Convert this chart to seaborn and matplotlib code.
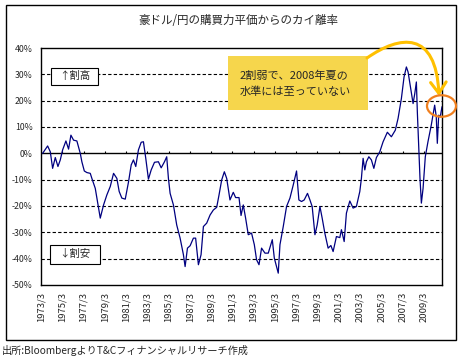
import matplotlib
matplotlib.use("Agg")
import matplotlib.pyplot as plt
import seaborn as sns
from matplotlib.patches import Rectangle, Ellipse, FancyArrowPatch
from matplotlib.path import Path

# ---------------- data ----------------
title = "豪ドル/円の購買力平価からのカイ離率"
source = "出所:BloombergよりT&Cフィナンシャルリサーチ作成"
note_lines = ["2割弱で、2008年夏の", "水準には至っていない"]
label_high = "↑割高"
label_low = "↓割安"

years = [1973.32, 1973.79, 1974.04, 1974.26, 1974.51, 1974.76, 1974.98, 1975.20, 1975.51, 1975.76,
         1975.98, 1976.23, 1976.54, 1976.86, 1977.01, 1977.24, 1977.48, 1977.80, 1977.95, 1978.27,
         1978.48, 1978.74, 1979.05, 1979.36, 1979.68, 1979.99, 1980.30, 1980.52, 1980.77, 1981.09,
         1981.40, 1981.65, 1981.86, 1982.08, 1982.33, 1982.59, 1982.80, 1983.02, 1983.27, 1983.53,
         1983.84, 1984.21, 1984.47, 1984.78, 1984.99, 1985.15, 1985.31, 1985.62, 1985.93, 1986.25,
         1986.56, 1986.72, 1986.94, 1987.19, 1987.50, 1987.71, 1987.97, 1988.22, 1988.44, 1988.75,
         1989.07, 1989.38, 1989.69, 1989.91, 1990.16, 1990.41, 1990.63, 1990.94, 1991.25, 1991.47,
         1991.79, 1991.98, 1992.19, 1992.41, 1992.66, 1992.97, 1993.23, 1993.44, 1993.67, 1993.91,
         1994.23, 1994.54, 1994.92, 1995.11, 1995.48, 1995.64, 1995.95, 1996.26, 1996.58, 1996.89,
         1997.20, 1997.42, 1997.67, 1997.92, 1998.23, 1998.46, 1998.67, 1998.93, 1999.14, 1999.40,
         1999.61, 1999.86, 2000.17, 2000.43, 2000.64, 2000.95, 2001.27, 2001.42, 2001.68, 2001.89,
         2002.21, 2002.52, 2002.83, 2003.15, 2003.30, 2003.46, 2003.62, 2003.77, 2004.00, 2004.24,
         2004.47, 2004.71, 2005.03, 2005.34, 2005.74, 2006.12, 2006.49, 2006.75, 2007.06, 2007.31,
         2007.53, 2007.69, 2007.94, 2008.16, 2008.32, 2008.47, 2008.56, 2008.69, 2008.81, 2008.94,
         2009.10, 2009.31, 2009.56, 2009.87, 2010.19, 2010.34, 2010.44, 2010.57, 2010.72, 2010.88]

values = [0.0, 2.8, 0.6, -5.7, -1.6, -5.0, -2.5, 1.3, 4.7, 1.6,
          6.9, 5.0, 4.7, 0.0, -3.2, -6.7, -7.3, -7.6, -9.5, -13.3,
          -18.3, -24.6, -19.6, -15.8, -12.6, -7.6, -9.5, -14.5, -17.0, -17.4,
          -10.8, -4.4, -2.5, -5.0, 1.3, 4.2, 4.4, -1.9, -9.8, -6.3,
          -3.4, -3.2, -5.5, -3.2, -1.3, -9.5, -15.2, -19.6, -27.2, -32.2,
          -38.5, -43.0, -36.0, -35.1, -32.2, -32.2, -42.3, -38.5, -27.8, -26.5,
          -23.4, -21.5, -20.5, -15.8, -10.1, -7.0, -9.5, -17.7, -14.8, -16.8,
          -16.8, -23.6, -19.6, -24.6, -30.9, -30.3, -34.7, -40.4, -42.3, -36.0,
          -37.9, -37.9, -32.8, -39.8, -45.5, -34.7, -27.8, -20.2, -17.0, -12.0,
          -6.7, -17.7, -18.3, -17.7, -15.2, -17.7, -20.2, -30.9, -27.2, -20.2,
          -24.6, -30.3, -36.0, -35.0, -37.3, -31.6, -32.0, -29.0, -33.5, -22.7,
          -18.1, -20.8, -20.2, -14.5, -9.5, -1.9, -6.3, -3.2, -1.3, -2.5,
          -5.7, -1.6, 0.6, 4.4, 8.0, 6.3, 8.8, 13.3, 20.8, 29.0,
          32.8, 30.9, 24.6, 18.9, 22.7, 27.1, 15.8, 3.1, -9.5, -18.9,
          -13.3, -1.3, 4.4, 10.7, 18.3, 13.9, 3.8, 14.5, 13.9, 17.7]

xtick_years = list(range(1973, 2010, 2))
xtick_labels = [f"{y}/3" for y in xtick_years]
ytick_values = [40, 30, 20, 10, 0, -10, -20, -30, -40, -50]
ytick_labels = [f"{v}%" for v in ytick_values]
grid_values = [30, 20, 10, -10, -20, -30, -40]

# ---------------- style ----------------
sns.set_style("white")
plt.rcParams['font.family'] = ['Noto Sans CJK JP', 'DejaVu Sans']

W, H = 464, 358
fig = plt.figure(figsize=(W / 100, H / 100), dpi=100)
fig.patch.set_facecolor("white")


def fx(x):
    return x / W


def fy(y):
    return 1 - y / H


ax = fig.add_axes([fx(41), fy(285), (442 - 41) / W, (285 - 48) / H])
ax.set_facecolor("white")

sns.lineplot(x=years, y=values, ax=ax, color="#000080", lw=0.9, zorder=3)

xtick_pos = [y + 2 / 12 for y in xtick_years]
ax.set_xlim(xtick_pos[0], 2010.88)
ax.set_ylim(-50, 40)

for v in grid_values:
    ax.axhline(v, color="black", lw=0.8, ls=(0, (3, 2)), zorder=1)
ax.axhline(0, color="black", lw=1.0, zorder=2)
ax.vlines(xtick_pos, 0, 0.9, color="black", lw=0.8, zorder=2)

ax.set_yticks(ytick_values)
ax.set_yticklabels(ytick_labels, fontsize=6.3)
ax.set_xticks(xtick_pos)
ax.set_xticklabels(xtick_labels, rotation=90, fontsize=6.8, va="top")
ax.tick_params(axis="y", length=0, pad=6)
ax.tick_params(axis="x", length=0, pad=5)
ax.set_xlabel("")
ax.set_ylabel("")
for s in ax.spines.values():
    s.set_color("black")
    s.set_linewidth(1.0)

# ---------------- decorations ----------------
fig.add_artist(Rectangle((fx(6), fy(340)), (456 - 6) / W, (340 - 5) / H, fill=False,
                         edgecolor="black", lw=1.0, transform=fig.transFigure, zorder=0.5))

fig.text(fx(238), fy(20), title, ha="center", va="center", fontsize=8.3)
fig.text(fx(2), fy(351), source, ha="left", va="center", fontsize=7.3)

# label boxes
fig.add_artist(Rectangle((fx(51), fy(85)), (98 - 51) / W, (85 - 68) / H, facecolor="white",
                         edgecolor="black", lw=0.8, transform=fig.transFigure, zorder=4))
fig.text(fx(74.5), fy(76.5), label_high, ha="center", va="center", fontsize=7.5, zorder=5)
fig.add_artist(Rectangle((fx(50), fy(264)), (100 - 50) / W, (264 - 245) / H, facecolor="white",
                         edgecolor="black", lw=0.8, transform=fig.transFigure, zorder=4))
fig.text(fx(75), fy(254.5), label_low, ha="center", va="center", fontsize=7.5, zorder=5)

# yellow note box
fig.add_artist(Rectangle((fx(228), fy(110)), (368 - 228) / W, (110 - 56) / H, facecolor="#F6D64C",
                         edgecolor="none", transform=fig.transFigure, zorder=4))
fig.text(fx(240), fy(76), note_lines[0], ha="left", va="center", fontsize=8, zorder=5)
fig.text(fx(240), fy(92), note_lines[1], ha="left", va="center", fontsize=8, zorder=5)

# curved arrow
verts = [(fx(367), fy(58)), (fx(400), fy(35)), (fx(436), fy(30)), (fx(439), fy(96))]
codes = [Path.MOVETO, Path.CURVE4, Path.CURVE4, Path.CURVE4]
arrow = FancyArrowPatch(path=Path(verts, codes), arrowstyle="->,head_length=0.5,head_width=0.35",
                        mutation_scale=16, color="#FFC000", lw=2.2, transform=fig.transFigure,
                        zorder=6)
fig.add_artist(arrow)

# orange ellipse
fig.add_artist(Ellipse((fx(441.5), fy(106)), 29 / W, 21.5 / H, fill=False, edgecolor="#F07F1E",
                       lw=1.6, transform=fig.transFigure, zorder=6))

fig.savefig("out.png", dpi=100, facecolor="white")
